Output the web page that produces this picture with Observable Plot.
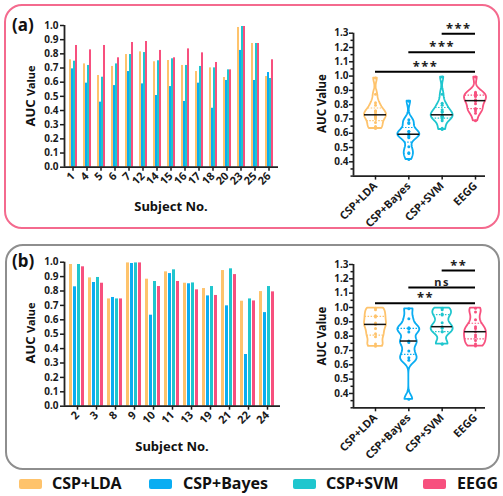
<!DOCTYPE html>
<html><head><meta charset="utf-8">
<script src="https://cdn.jsdelivr.net/npm/d3@7"></script>
<script src="https://cdn.jsdelivr.net/npm/@observablehq/plot@0.6"></script>
<style>
body{margin:0;background:#fff;font-family:"Noto Sans",sans-serif;}
#root{position:relative;width:503px;height:496px;overflow:hidden;}
#root svg{position:absolute;left:0;top:0;}
.frame{position:absolute;box-sizing:border-box;border-radius:18px;}
.leg{position:absolute;font-weight:700;font-size:16px;color:#111;line-height:1;}
.sw{position:absolute;width:23px;height:10px;border-radius:2px;}
svg.vio g[aria-label="text"] text{letter-spacing:1.5px;}
</style></head><body><div id="root"></div>
<script>
const methods = ["CSP+LDA","CSP+Bayes","CSP+SVM","EEGG"];
const colors = ["#FEC36C","#0AADF2","#1FC6CE","#F7507E"];

const subjectsA = ["1","4","5","6","7","12","14","15","16","17","18","20","23","25","26"];
const ldaA   = [0.758,0.729,0.647,0.711,0.795,0.814,0.744,0.753,0.718,0.675,0.701,0.633,0.986,0.873,0.640];
const bayesA = [0.694,0.593,0.459,0.576,0.675,0.588,0.506,0.569,0.464,0.593,0.416,0.612,0.824,0.612,0.668];
const svmA   = [0.748,0.718,0.635,0.729,0.795,0.809,0.751,0.765,0.718,0.711,0.701,0.687,0.993,0.873,0.626];
const eeggA  = [0.859,0.828,0.859,0.772,0.880,0.887,0.824,0.772,0.835,0.807,0.739,0.687,0.993,0.873,0.758];

const subjectsB = ["2","3","8","9","10","11","13","19","21","22","24"];
const ldaB   = [0.984,0.891,0.745,0.995,0.882,0.933,0.854,0.817,0.942,0.729,0.796];
const bayesB = [0.829,0.859,0.755,0.991,0.632,0.921,0.850,0.766,0.697,0.359,0.650];
const svmB   = [0.984,0.894,0.745,0.995,0.866,0.947,0.856,0.831,0.954,0.745,0.831];
const eeggB  = [0.968,0.854,0.745,0.995,0.831,0.866,0.808,0.769,0.914,0.731,0.794];

const sigFromA = [1,2,3];
const sigLevelA = [1.03,1.166,1.296];
const sigTextA = ["***","***","***"];
const sigFromB = [1,2,3];
const sigLevelB = [1.03,1.14,1.258];
const sigTextB = ["**","ns","**"];

const barTicks = [0,0.1,0.2,0.3,0.4,0.5,0.6,0.7,0.8,0.9,1.0];
const violinTicks = [0.4,0.5,0.6,0.7,0.8,0.9,1.0,1.1,1.2,1.3];
const violinMinor = [0.3,0.35,0.45,0.55,0.65,0.75,0.85,0.95,1.05,1.15,1.25];

const W = 503, H = 496;
const root = document.getElementById("root");
const baseStyle = {fontFamily:"Noto Sans", fontSize:"10px", fontWeight:"700", color:"#1a1a1a", background:"transparent", overflow:"visible"};
const colorScale = {domain: methods, range: colors};

function frame(l,t,w,h,c,bw){
  const d=document.createElement("div");d.className="frame";
  Object.assign(d.style,{left:l+"px",top:t+"px",width:w+"px",height:h+"px",border:bw+"px solid "+c});
  root.appendChild(d);
}
frame(4,4,496,225,"#F46A8E",2.5);
frame(5,244,495,226,"#8E8E8E",2);

function barPanel(subjects, series, top, bottom, right){
  const rows = subjects.flatMap((s,i)=>methods.map((m,j)=>({subject:s, method:m, value:series[j][i]})));
  const common = {width:W, height:H, marginLeft:64, marginRight:W-right, marginTop:top, marginBottom:H-bottom, style:baseStyle};
  const axes = Plot.plot({...common,
    x:{domain:[0,1], axis:null}, y:{domain:[0,1], axis:null},
    marks:[
      Plot.axisY({ticks:barTicks, tickFormat:d3.format(".1f"), tickSize:4, tickPadding:2, label:null, strokeWidth:1.5}),
      Plot.ruleY([0],{strokeWidth:1.8, stroke:"#222"}),
      Plot.ruleX([0],{strokeWidth:1.8, stroke:"#222"})
    ]});
  const bars = Plot.plot({...common,
    fx:{domain:subjects, paddingInner:0.18, paddingOuter:0.08, label:null},
    x:{domain:methods, paddingInner:0.14, paddingOuter:0, axis:null},
    y:{domain:[0,1], axis:null},
    color:colorScale,
    marks:[
      Plot.barY(rows,{fx:"subject", x:"method", y:"value", fill:"method"}),
      Plot.axisFx({anchor:"bottom", tickRotate:-45, tickSize:4, tickPadding:3, label:null, strokeWidth:1.5, fontSize:11})
    ]});
  root.appendChild(bars); root.appendChild(axes);
}

function violinPanel(series, top, bottom, sigFrom, sigLevel, sigText){
  const bw = 0.03, half = 0.33;
  const vrows = [], qrows = [], mrows = [], pts = [];
  series.forEach((vals,j)=>{
    const m = methods[j], cx = j+1;
    const dens = y => d3.sum(vals, v => Math.exp(-0.5*((y-v)/bw)**2));
    const lo = d3.min(vals), hi = d3.max(vals);
    const grid = d3.range(0,61).map(k => lo + (hi-lo)*k/60);
    const mx = d3.max(grid, dens);
    grid.forEach(y => { const w = dens(y)/mx*half; vrows.push({method:m, y, xl:cx-w, xr:cx+w}); });
    const sorted = vals.slice().sort(d3.ascending);
    [0.25,0.75].forEach(p => { const q = d3.quantile(sorted,p); const w = dens(q)/mx*half; qrows.push({method:m, y:q, xl:cx-w, xr:cx+w}); });
    const med = d3.median(vals); const wm = dens(med)/mx*half;
    mrows.push({method:m, y:med, xl:cx-wm, xr:cx+wm});
    vals.forEach(v => pts.push({method:m, x:cx, y:v}));
  });
  const sig = sigFrom.map((f,i)=>({from:f, to:4, level:sigLevel[i], label:sigText[i]}));
  const p = Plot.plot({width:W, height:H, marginLeft:353, marginRight:18, marginTop:top, marginBottom:H-bottom,
    style:baseStyle, className:"vio",
    x:{domain:[0.34,4.3], axis:null}, y:{domain:[0.3,1.3], axis:null},
    color:colorScale,
    marks:[
      Plot.ruleX([0.34],{strokeWidth:1.8, stroke:"#222"}),
      Plot.ruleY([0.3],{strokeWidth:1.8, stroke:"#222"}),
      Plot.axisY({ticks:violinTicks, tickFormat:d3.format(".1f"), tickSize:4, tickPadding:1, label:null, strokeWidth:1.5}),
      Plot.axisY({ticks:violinMinor, tickFormat:()=>"", tickSize:2.5, label:null, strokeWidth:1.5}),
      Plot.axisX({ticks:[1,2,3,4], tickFormat:i=>methods[i-1], tickRotate:-45, tickSize:4, tickPadding:4, label:null, strokeWidth:1.5, fontSize:11}),
      Plot.areaX(vrows,{y:"y", x1:"xl", x2:"xr", z:"method", fill:"white", stroke:"method", strokeWidth:1.8, strokeLinejoin:"round"}),
      Plot.ruleY(qrows,{y:"y", x1:"xl", x2:"xr", stroke:"method", strokeWidth:1.2, strokeDasharray:"1.5 1.5"}),
      Plot.dot(pts,{x:"x", y:"y", fill:"method", r:1.5}),
      Plot.ruleY(mrows,{y:"y", x1:"xl", x2:"xr", stroke:"#111", strokeWidth:1.5}),
      Plot.ruleY(sig,{y:"level", x1:"from", x2:"to", stroke:"#000", strokeWidth:2}),
      Plot.text(sig,{x:d=>(d.from+d.to)/2, y:"level", text:"label", lineAnchor:"bottom", dy:-1,
        fontSize:d=>d.label==="ns"?11:13, fontWeight:d=>d.label==="ns"?400:700, fill:"#222"})
    ]});
  root.appendChild(p);
}

barPanel(subjectsA,[ldaA,bayesA,svmA,eeggA],25,166.7,278);
barPanel(subjectsB,[ldaB,bayesB,svmB,eeggB],261.7,405.7,280);
violinPanel([ldaA,bayesA,svmA,eeggA],32.7,175.6,sigFromA,sigLevelA,sigTextA);
violinPanel([ldaB,bayesB,svmB,eeggB],264,407.3,sigFromB,sigLevelB,sigTextB);

// overlay labels
const ns="http://www.w3.org/2000/svg";
const ov=document.createElementNS(ns,"svg");
ov.setAttribute("width",W);ov.setAttribute("height",H);
ov.style.fontFamily="Noto Sans";ov.style.fill="#111";
function txt(str,x,y,size,weight,anchor,rot){
  const t=document.createElementNS(ns,"text");
  t.setAttribute("font-size",size);t.setAttribute("font-weight",weight);
  t.setAttribute("text-anchor",anchor||"start");
  t.setAttribute("transform",`translate(${x},${y})`+(rot?` rotate(${rot})`:""));
  t.textContent=str;ov.appendChild(t);return t;
}
txt("(a)",12,31,17,700);
txt("(b)",12,267,17,700);
txt("Subject No.",171,211,13,700,"middle");
txt("Subject No.",172,451,13,700,"middle");
function aucLabel(x,y){
  const t=document.createElementNS(ns,"text");
  t.setAttribute("text-anchor","middle");t.setAttribute("font-weight",700);
  t.setAttribute("transform",`translate(${x},${y}) rotate(-90)`);
  const a=document.createElementNS(ns,"tspan");a.setAttribute("font-size",13);a.textContent="AUC ";
  const b=document.createElementNS(ns,"tspan");b.setAttribute("font-size",11);b.textContent="Value";
  t.appendChild(a);t.appendChild(b);ov.appendChild(t);
}
aucLabel(34.5,96);
aucLabel(34.5,333);
txt("AUC Value",325.5,103.5,11.5,700,"middle",-90);
txt("AUC Value",325.5,336,11.5,700,"middle",-90);
root.appendChild(ov);

// legend
const swX=[19,149,293,423], txX=[52,183,326,457];
methods.forEach((m,i)=>{
  const s=document.createElement("div");s.className="sw";
  Object.assign(s.style,{left:swX[i]+"px",top:"479px",background:colors[i]});root.appendChild(s);
  const l=document.createElement("div");l.className="leg";l.textContent=m;
  Object.assign(l.style,{left:txX[i]+"px",top:"475px"});root.appendChild(l);
});
</script></body></html>
